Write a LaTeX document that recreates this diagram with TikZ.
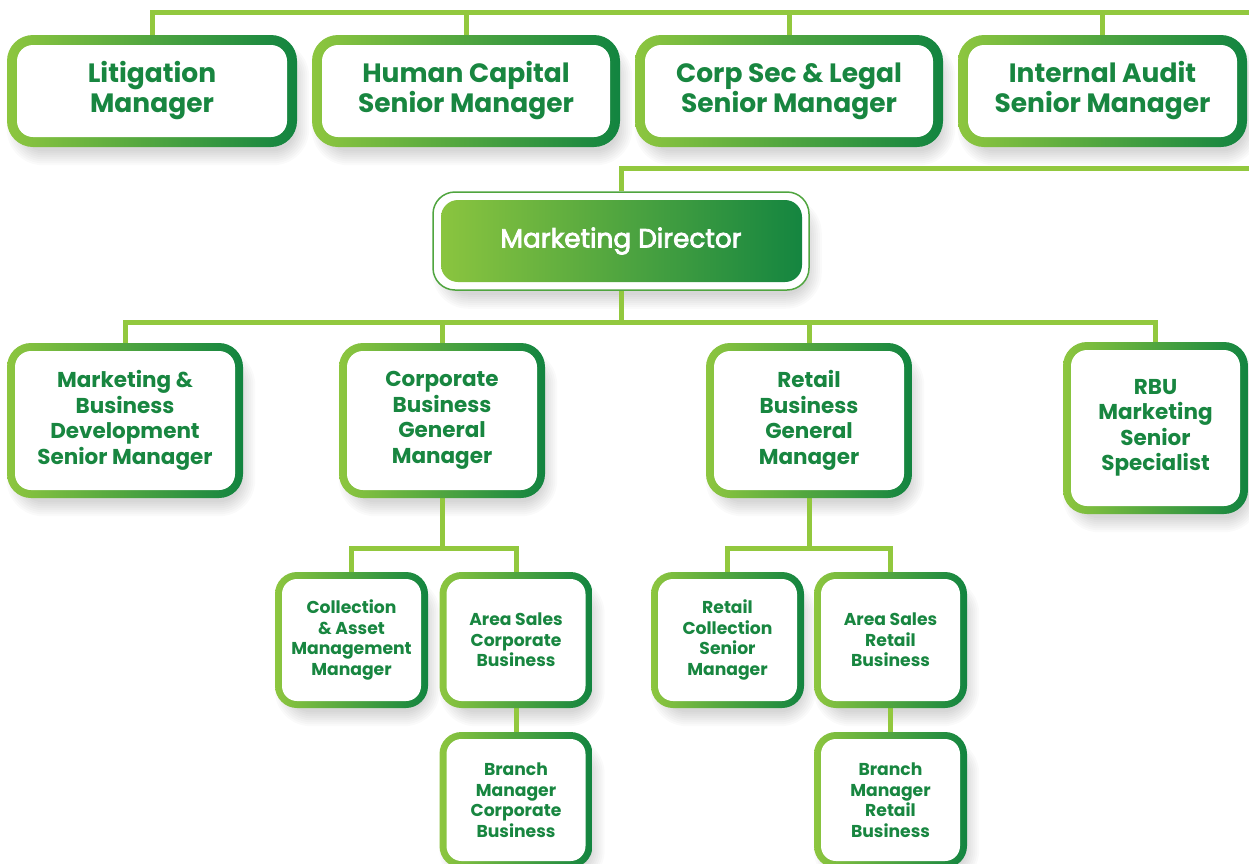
\documentclass[tikz,border=0pt]{standalone}
\usepackage{fontspec}
\setmainfont{Poppins}
\newfontfamily\mdfont{Poppins}[FakeBold=3]
\usetikzlibrary{backgrounds}
\definecolor{lg}{RGB}{141,198,63}
\definecolor{dg}{RGB}{18,132,64}
\definecolor{tg}{RGB}{24,134,64}
\definecolor{ln}{RGB}{146,200,62}
\pgfdeclarelayer{bgzero}
\pgfdeclarelayer{shadowlayer}
\pgfsetlayers{bgzero,shadowlayer,background,main}
\tikzset{
  bw/.store in=\bw, bw=8pt,
  ir/.store in=\ir, ir=14pt,
  conn/.style={draw=ln, line width=5pt},
  shadowpiece/.style={fill=black, opacity=0.018},
  obox/.style={rounded corners=22pt, left color=lg, right color=dg, inner sep=0pt,
    align=center, text=tg,
    path picture={\fill[white, rounded corners=\ir]
      ([shift={(\bw,-\bw)}]path picture bounding box.north west) rectangle
      ([shift={(-\bw,\bw)}]path picture bounding box.south east);}},
  rowa/.style={obox, bw=10pt, ir=16pt, rounded corners=26pt, minimum height=112pt,
    font=\fontsize{26.5}{30}\selectfont\bfseries},
  rowb/.style={obox, bw=8pt, ir=16pt, rounded corners=24pt,
    font=\fontsize{21.5}{25.5}\selectfont\bfseries},
  rowc/.style={obox, bw=7pt, ir=15pt, rounded corners=22pt, minimum width=153pt, minimum height=136pt,
    font=\fontsize{17.2}{20.5}\selectfont\bfseries},
  mdbox/.style={rounded corners=22pt, fill=white, draw=lg!50!dg, line width=1.5pt, inner sep=0pt,
    align=center, text=white, font=\fontsize{26.3}{30}\mdfont,
    path picture={\shade[left color=lg, right color=dg, rounded corners=17pt]
      ([shift={(8pt,-8pt)}]path picture bounding box.north west) rectangle
      ([shift={(-7pt,8pt)}]path picture bounding box.south east);}}
}
\begin{document}
\begin{tikzpicture}[x=1pt,y=-1pt]
\useasboundingbox (0,0) rectangle (1249,863);
\begin{pgfonlayer}{bgzero}
\fill[white] (0,0) rectangle (1249,863);
\end{pgfonlayer}
\clip (0,0) rectangle (1249,863);
% coordinates for connector levels
\coordinate (topR) at (1260,12);
\coordinate (midR) at (1260,168);
\coordinate (r2) at (0,322);
\coordinate (r3) at (0,548);
% top row
\node[rowa, minimum width=290pt] (lit) at (152,91) {Litigation\\Manager};
\node[rowa, minimum width=308pt] (hc) at (466,91) {Human Capital\\Senior Manager};
\node[rowa, minimum width=308pt] (cs) at (789,91) {Corp Sec \& Legal\\Senior Manager};
\node[rowa, minimum width=289pt] (ia) at (1102.5,91) {Internal Audit\\Senior Manager};
% marketing director
\node[mdbox, minimum width=376pt, minimum height=98pt] (md) at (621,241) {Marketing Director};
% second row
\node[rowb, minimum width=236pt, minimum height=155pt] (mbd) at (125,420.5) {Marketing \&\\Business\\Development\\Senior Manager};
\node[rowb, minimum width=206pt, minimum height=155pt] (corp) at (442,420.5) {Corporate\\Business\\General\\Manager};
\node[rowb, minimum width=206pt, minimum height=155pt] (ret) at (809,420.5) {Retail\\Business\\General\\Manager};
\node[rowb, minimum width=185pt, minimum height=172pt] (rbu) at (1155.5,428) {RBU\\Marketing\\Senior\\Specialist};
% third row
\node[rowc] (coll) at (351.5,640) {Collection\\\& Asset\\Management\\Manager};
\node[rowc] (asc) at (516,640) {Area Sales\\Corporate\\Business};
\node[rowc] (bmc) at (516,800) {Branch\\Manager\\Corporate\\Business};
\node[rowc] (rcs) at (727.5,640) {Retail\\Collection\\Senior\\Manager};
\node[rowc] (asr) at (890.5,640) {Area Sales\\Retail\\Business};
\node[rowc] (bmr) at (890.5,800) {Branch\\Manager\\Retail\\Business};
% soft shadows
\begin{pgfonlayer}{shadowlayer}
\foreach \n in {lit,hc,cs,ia,md,mbd,corp,ret,rbu,coll,asc,bmc,rcs,asr,bmr}{
  \foreach \i in {0,2,...,14}{
    \fill[shadowpiece, rounded corners={22pt+\i pt}]
      ([shift={(6pt-\i pt+8pt,-12pt+\i pt-8pt)}]\n.north west) rectangle
      ([shift={(6pt+\i pt-8pt,-12pt-\i pt+8pt)}]\n.south east);
  }
}
\end{pgfonlayer}
% connectors (behind boxes)
\begin{scope}[on background layer]
\draw[conn] (lit.north) -- (lit.north |- topR) -- (topR);
\draw[conn] (hc.north) -- (hc.north |- topR);
\draw[conn] (cs.north) -- (cs.north |- topR);
\draw[conn] (ia.north) -- (ia.north |- topR);
\draw[conn] (md.north) -- (md.north |- midR) -- (midR);
\draw[conn] (md.south) -- (md.south |- r2);
\draw[conn] (mbd.north) -- (mbd.north |- r2) -- (rbu.north |- r2) -- (rbu.north);
\draw[conn] (corp.north) -- (corp.north |- r2);
\draw[conn] (ret.north) -- (ret.north |- r2);
\draw[conn] (corp.south) -- (corp.south |- r3);
\draw[conn] (coll.north) -- (coll.north |- r3) -- (asc.north |- r3) -- (asc.north);
\draw[conn] (asc.south) -- (bmc.north);
\draw[conn] (ret.south) -- (ret.south |- r3);
\draw[conn] (rcs.north) -- (rcs.north |- r3) -- (asr.north |- r3) -- (asr.north);
\draw[conn] (asr.south) -- (bmr.north);
\end{scope}
\end{tikzpicture}
\end{document}
